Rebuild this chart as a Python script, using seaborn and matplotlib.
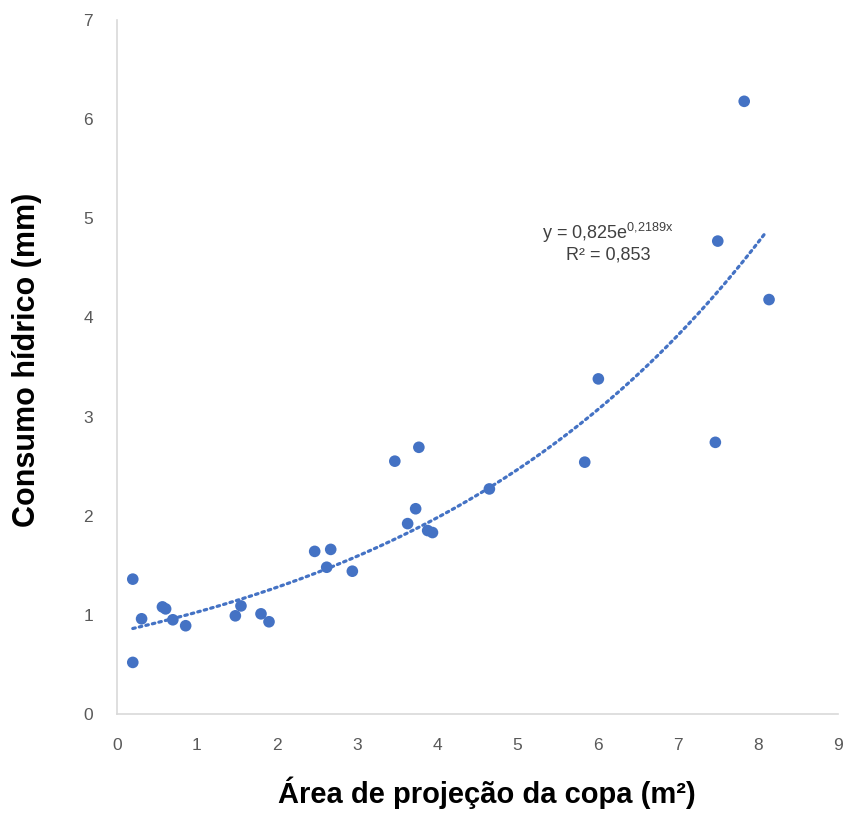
import numpy as np
import pandas as pd
import seaborn as sns
import matplotlib.pyplot as plt

# dados
area_copa = [0.20, 0.20, 0.31, 0.57, 0.61, 0.70, 0.86, 1.48, 1.55, 1.80, 1.90,
             2.47, 2.67, 2.62, 2.94, 3.47, 3.77, 3.73, 3.63, 3.88, 3.94, 4.65,
             5.84, 6.01, 7.47, 7.50, 7.83, 8.14]
consumo = [1.36, 0.52, 0.96, 1.08, 1.06, 0.95, 0.89, 0.99, 1.09, 1.01, 0.93,
           1.64, 1.66, 1.48, 1.44, 2.55, 2.69, 2.07, 1.92, 1.85, 1.83, 2.27,
           2.54, 3.38, 2.74, 4.77, 6.18, 4.18]

# linha de tendencia exponencial (coeficientes da equacao no grafico)
coef_a = 0.825
coef_b = 0.2189
x_trend = np.linspace(0.2, 8.1, 200)
y_trend = coef_a * np.exp(coef_b * x_trend)

df = pd.DataFrame({"area": area_copa, "consumo": consumo})
df_trend = pd.DataFrame({"area": x_trend, "consumo": y_trend})

sns.set_style("white")
plt.rcParams['font.family'] = ['Liberation Sans', 'DejaVu Sans']
plt.rcParams['mathtext.default'] = 'regular'

blue = "#4472C4"

fig = plt.figure(figsize=(8.46, 8.14), dpi=100)
ax = fig.add_axes([0.138, 0.1229, 0.8525, 0.8525])

sns.lineplot(data=df_trend, x="area", y="consumo", ax=ax, color=blue,
             linewidth=2.3, linestyle=(0, (0.8, 1.3)), dash_capstyle="round")
sns.scatterplot(data=df, x="area", y="consumo", ax=ax, color=blue, s=70,
                edgecolor="none", zorder=3)

ax.set_xlim(0, 9)
ax.set_ylim(0, 7)
ax.set_xticks(range(0, 10))
ax.set_yticks(range(0, 8))

for s in ["top", "right"]:
    ax.spines[s].set_visible(False)
for s in ["left", "bottom"]:
    ax.spines[s].set_color("#d9d9d9")
    ax.spines[s].set_linewidth(1.2)

ax.tick_params(axis="both", length=0, colors="#595959", labelsize=12.5)
ax.tick_params(axis="x", pad=17)
ax.tick_params(axis="y", pad=17)

ax.set_xlabel("Área de projeção da copa (m²)", fontsize=21, fontweight="bold",
              color="black", va="center")
ax.xaxis.set_label_coords(0.513, -0.114)
ax.set_ylabel("Consumo hídrico (mm)", fontsize=22, fontweight="bold",
              color="black", va="center")
ax.yaxis.set_label_coords(-0.125, 0.51)

ax.text(6.13, 4.85, "y = 0,825e$^{0{,}2189x}$", ha="center", va="center",
        fontsize=13, color="#404040")
ax.text(6.13, 4.63, "R² = 0,853", ha="center", va="center",
        fontsize=13, color="#404040")

fig.savefig("out.png", dpi=100)
